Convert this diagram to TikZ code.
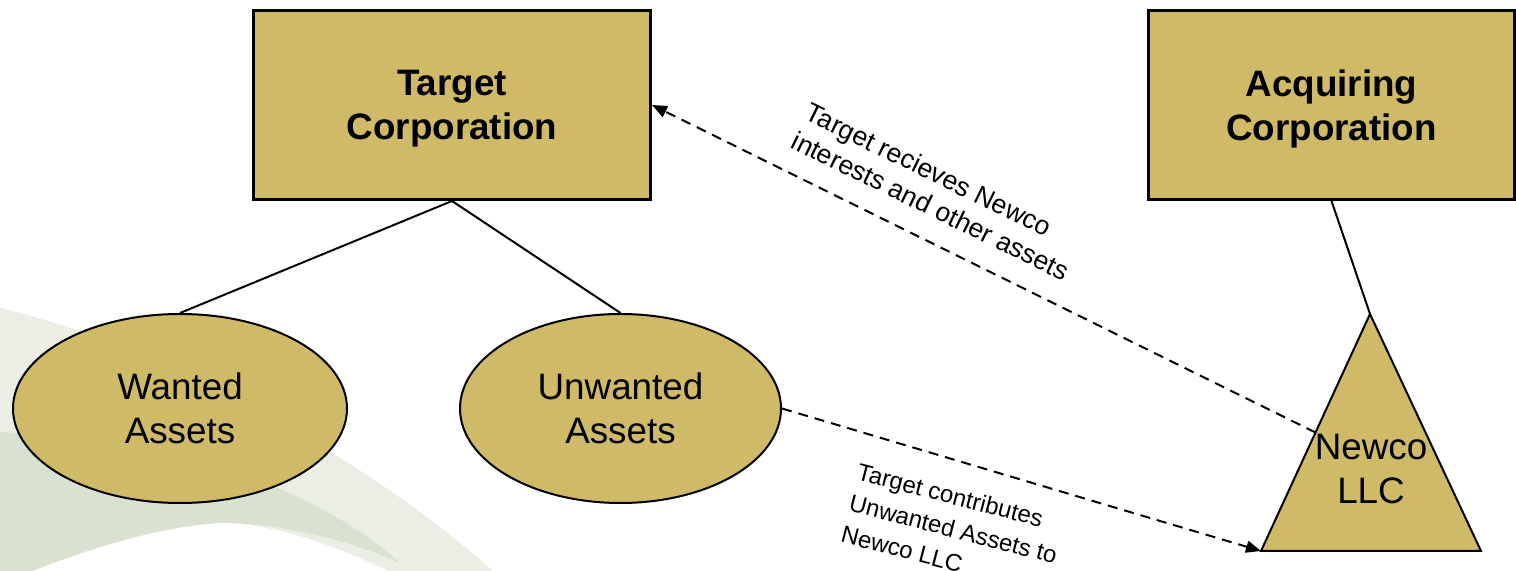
\documentclass[tikz,border=0pt]{standalone}
\usepackage{fontspec}
\setmainfont{Liberation Sans}
\usetikzlibrary{arrows.meta,shapes.geometric,calc}
\definecolor{gold}{RGB}{207,186,104}
\definecolor{swooshlight}{RGB}{234,238,229}
\definecolor{swooshdark}{RGB}{217,225,208}
\tikzset{
  corpbox/.style={draw=black, line width=1.5pt, fill=gold, inner sep=0pt, align=center,
    text depth=0pt, font=\fontsize{18.4}{21.8}\selectfont\bfseries},
  assetoval/.style={ellipse, draw=black, line width=1pt, fill=gold, inner sep=0pt, align=center,
    font=\fontsize{18.4}{21.8}\selectfont},
  tie/.style={draw=black, line width=1pt},
  flow/.style={draw=black, line width=1pt, dash pattern=on 5pt off 3.5pt,
    -{Triangle[length=7.5pt,width=6pt]}},
  flowlabel/.style={align=left, inner sep=0pt},
}
\begin{document}
\begin{tikzpicture}[x=0.5pt,y=-0.5pt]
\useasboundingbox (0,0) rectangle (1516,571);

% background swoosh in the lower left corner
\fill[swooshlight] (0,308) .. controls (180,350) and (380,470) .. (493,571) -- (0,571) -- cycle;
\fill[swooshdark] (0,432) .. controls (200,440) and (330,500) .. (400,563)
  .. controls (330,532) and (260,522) .. (215,523) -- (215,571) -- (0,571) -- cycle;
\fill[white] (33,571) .. controls (90,548) and (170,524) .. (225,523)
  .. controls (280,525) and (340,548) .. (388,571) -- cycle;

% corporations and asset groups
\node[corpbox, minimum width=198.5pt, minimum height=94.5pt] (target) at (452,105) {Target\\Corporation};
\node[corpbox, minimum width=183pt, minimum height=94.5pt] (acq) at (1331.5,105) {Acquiring\\Corporation};
\node[assetoval, minimum width=167pt, minimum height=94.5pt] (wanted) at (180,408.5) {Wanted\\Assets};
\node[assetoval, minimum width=160.5pt, minimum height=94.5pt] (unwanted) at (620.5,408.5) {Unwanted\\Assets};

% Newco LLC triangle
\coordinate (apex) at (1370,314);
\coordinate (bl) at (1261,551);
\coordinate (br) at (1481,551);
\draw[tie, fill=gold] (apex) -- (bl) -- (br) -- cycle;
\node[align=center, inner sep=0pt, font=\fontsize{18.4}{21.8}\selectfont] (newco) at (1371,469) {Newco\\LLC};
\coordinate (leftmid) at ($(apex)!0.5!(bl)$);

% ownership lines
\draw[tie] (target.south) -- (wanted.north);
\draw[tie] (target.south) -- (unwanted.north);
\draw[tie] (acq.south) -- (apex);

% transfers
\draw[flow] (leftmid) -- (target.east);
\draw[flow] (unwanted.east) -- (bl);

\node[flowlabel, font=\fontsize{13.3}{16}\selectfont, rotate=-26, anchor=north west] (lab1) at (812,101)
  {Target recieves Newco\\interests and other assets};
\node[flowlabel, font=\fontsize{12}{16.1}\selectfont, rotate=-14.5, anchor=north west] (lab2) at (860,462)
  {Target contributes\\Unwanted Assets to\\Newco LLC};
\end{tikzpicture}
\end{document}
